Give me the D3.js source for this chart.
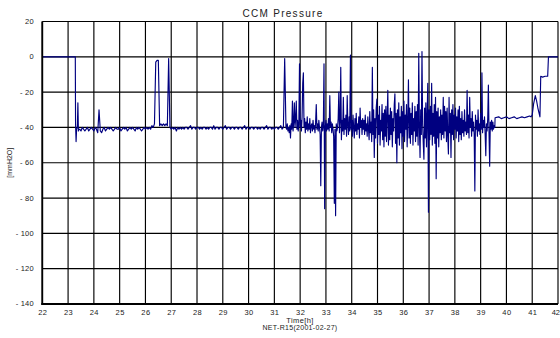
<!DOCTYPE html>
<html><head><meta charset="utf-8">
<script src="https://cdn.jsdelivr.net/npm/d3@7"></script>
<style>
html,body{margin:0;padding:0;background:#fff;}
svg{display:block;}
text{font-family:"Liberation Sans",Arial,sans-serif;fill:#222;}
</style></head>
<body>
<svg id="chart" width="560" height="338"></svg>
<script>
// ---- data ----
const titleText = "CCM Pressure";
const yLabelText = "[mmH2O]";
const xLabelText = "Time[h]";
const subLabelText = "NET-R15(2001-02-27)";
const xTickValues = [22,23,24,25,26,27,28,29,30,31,32,33,34,35,36,37,38,39,40,41,42];
const yTickValues = [20,0,-20,-40,-60,-80,-100,-120,-140];

// start of record: [time h, pressure mmH2O]
const startPairs = [[22,0],[23.28,0],[23.29,-38],[23.31,-48],[23.33,-41],[23.36,-40],[23.38,-26],[23.40,-42],[23.42,-41]];

// quiet stretch, sampled every 0.05 h from 23.45 h
const quietStart = 23.45, quietStep = 0.05;
const quietValues = [
 -41,-42,-40,-41,-42,-41,-40,-42,-41,-40,-41,-42,-40,-41,-43,-30,-42,-43,-41,-40,
 -42,-41,-40,-41,-40,-41,-42,-41,-40,-41,-41,-40,-42,-41,-40,-41,-40,-42,-41,-40,
 -41,-40,-41,-42,-40,-41,-40,-41,-42,-41,-40,-41,-40,-41,-40,-41,-39,-40,-38,-3,
 -2,-2,-39,-38,-39,-38,-39,-38,-39,-1,-40,-41,-40,-41,-40,-42,-40,-41,-40,-41,
 -40,-41,-40,-40,-41,-40,-39,-41,-40,-40,-41,-40,-40,-41,-40,-41,-40,-40,-41,-40,
 -41,-40,-40,-41,-39,-41,-40,-40,-41,-40,-40,-41,-40,-39,-41,-40,-40,-41,-40,-40,
 -41,-40,-40,-41,-40,-40,-41,-40,-39,-41,-40,-40,-41,-40,-40,-41,-40,-40,-41,-40,
 -41,-40,-40,-41,-40,-39,-41,-40,-40,-41,-40,-41,-40,-40,-41,-40,-39,-41,-40,-1
];

// noisy stretch, sampled every 0.025 h from 31.45 h
const noisyStart = 31.45, noisyStep = 0.025;
const noisyValues = [
 -40,-41,-38,-42,-40,-43,-39,-46,-38,-41,-25,-42,-37,-26,-40,-35,-25,-41,-36,-42,
 -38,-4,-40,-36,-42,-34,-15,-9,-40,-35,-43,-37,-41,-34,-42,-38,-41,-35,-43,-39,
 -38,-42,-36,-41,-39,-43,-37,-27,-41,-38,-42,-36,-40,-44,-73,-40,-37,-42,-39,-4,
 -86,-40,-36,-42,-38,-41,-35,-42,-22,-40,-37,-43,-38,-41,-45,-83,-41,-90,-38,-42,
 -40,-35,-20,-43,-37,-6,-47,-36,-42,-23,-44,-35,-41,-33,-45,-22,-39,-44,-34,-42,
 1,-41,-36,-45,-33,-40,-46,-35,-42,-32,-44,-38,-41,-34,-46,-29,-40,-36,-44,-35,
 -41,-36,-44,-33,-42,-38,-45,-34,-41,-47,-31,-43,-37,-48,-6,-44,-30,-57,-35,-46,
 -29,-24,-49,-33,-44,-28,-50,-36,-42,-27,-47,-32,-51,-30,-45,-28,-48,-34,-19,-50,
 -33,-47,-29,-44,-31,-51,-35,-42,-27,-21,-49,-32,-60,-30,-46,-26,-50,-34,-43,-28,
 -52,-31,-45,-25,-48,-33,-41,-27,-51,-36,-13,-46,-29,-49,-32,-44,-26,-50,-35,-42,
 -28,-48,-31,-45,-27,-50,2,-40,-57,-30,-44,3,-38,-49,-58,-29,-46,-26,-51,-33,
 -15,-88,-30,-47,-28,-44,-15,-50,-32,-45,-27,-49,-23,-69,-31,-46,-29,-51,-34,-43,
 -30,-47,-33,-44,-23,-46,-28,-42,-31,-48,-29,-45,-55,-23,-43,-32,-57,-30,-44,-27,
 -47,-33,-41,-29,-46,-34,-42,-30,-48,-28,-44,-35,-47,-31,-43,-36,-45,-30,-42,-37,
 -44,-19,-43,-33,-46,-23,-40,-35,-45,-31,-42,-37,-44,-76,-33,-41,-36,-45,-30,-42,
 -38,-44,-32,-41,-9,-43,-36,-40,-34,-44,-56,-38,-42,-35,-16,-43,-62,-37,-41,-36,
 -42,-37,-41,-39,-40
];

// end of record: [time h, pressure mmH2O]
const endPairs = [[39.56,-34.5],[39.7,-34],[39.8,-35],[39.9,-34.5],[40.0,-34],[40.1,-35],[40.2,-34.5],[40.3,-34],[40.4,-35],[40.5,-34.5],[40.6,-34],[40.7,-34.5],[40.8,-34],[40.9,-33.5],[40.95,-34],[41.0,-33],[41.05,-27],[41.12,-22],[41.17,-25],[41.22,-29],[41.3,-34],[41.33,-11],[41.4,-11.5],[41.5,-11],[41.6,-11],[41.63,0],[42,0]];

// ---- build series ----
const series = [].concat(
  startPairs,
  quietValues.map((v,i)=>[quietStart+i*quietStep, v]),
  noisyValues.map((v,i)=>[noisyStart+i*noisyStep, v]),
  endPairs
);

// ---- layout ----
const svg = d3.select("#chart");
const L = 42.3, R = 558, T = 21.5, B = 304;
const x = d3.scaleLinear().domain([22,42]).range([L,R]);
const y = d3.scaleLinear().domain([-140,20]).range([B,T]);

// grid
const grid = svg.append("g");
grid.selectAll("line.v").data(xTickValues).join("line")
  .attr("x1",d=>x(d)).attr("x2",d=>x(d)).attr("y1",T).attr("y2",B)
  .attr("stroke","#000").attr("stroke-width",1.15);
grid.selectAll("line.h").data(yTickValues).join("line")
  .attr("x1",L).attr("x2",R).attr("y1",d=>y(d)).attr("y2",d=>y(d))
  .attr("stroke","#000").attr("stroke-width",1.15);

// axes (labels)
const xAxis = d3.axisBottom(x).tickValues(xTickValues).tickSize(0).tickPadding(0).tickFormat(d3.format("d"));
const gx = svg.append("g").attr("transform",`translate(0,${B+9.5})`).call(xAxis);
gx.select(".domain").remove();
gx.selectAll("text").attr("font-size","7.5px").attr("letter-spacing","0.4px").attr("fill","#222").attr("dy","0").attr("dominant-baseline","middle").attr("y",0);
// keep the last label inside the window
gx.selectAll(".tick").filter(d=>d===42).select("text").attr("text-anchor","end").attr("letter-spacing","0px").attr("x",1.5);

const yAxis = d3.axisLeft(y).tickValues(yTickValues).tickSize(0).tickPadding(0).tickFormat(d=>String(d).replace("-","- "));
const gy = svg.append("g").attr("transform",`translate(${L-8.5},0)`).call(yAxis);
gy.select(".domain").remove();
gy.selectAll("text").attr("font-size","7.5px").attr("letter-spacing","0.2px").attr("fill","#222").attr("dy","0").attr("dominant-baseline","middle").attr("x",0);

// line
svg.append("defs").append("clipPath").attr("id","clip").append("rect")
  .attr("x",L).attr("y",T-1).attr("width",R-L+2).attr("height",B-T+1);
svg.append("path").datum(series)
  .attr("clip-path","url(#clip)")
  .attr("fill","none").attr("stroke","#000080").attr("stroke-width",1.15)
  .attr("stroke-linejoin","round")
  .attr("d", d3.line().x(d=>x(d[0])).y(d=>y(d[1])));

// frame: heavier left and bottom
svg.append("line").attr("x1",L).attr("x2",L).attr("y1",T).attr("y2",B+1).attr("stroke","#000").attr("stroke-width",1.8);
svg.append("line").attr("x1",L-1).attr("x2",R).attr("y1",B).attr("y2",B).attr("stroke","#000").attr("stroke-width",1.8);

// titles
svg.append("text").attr("x",283).attr("y",14).attr("text-anchor","middle")
  .attr("dominant-baseline","middle").attr("font-size","10px").attr("letter-spacing","1.3px").attr("fill","#333").text(titleText);
svg.append("text").attr("transform",`translate(10,${(T+B)/2}) rotate(-90)`).attr("text-anchor","middle")
  .attr("dominant-baseline","middle").attr("font-size","7px").attr("fill","#222").text(yLabelText);
svg.append("text").attr("x",300).attr("y",321).attr("text-anchor","middle")
  .attr("dominant-baseline","middle").attr("font-size","7.5px").attr("letter-spacing","0.4px").attr("fill","#222").text(xLabelText);
svg.append("text").attr("x",300).attr("y",328.5).attr("text-anchor","middle")
  .attr("dominant-baseline","middle").attr("font-size","7px").attr("letter-spacing","0.3px").attr("fill","#222").text(subLabelText);
</script>
</body></html>
